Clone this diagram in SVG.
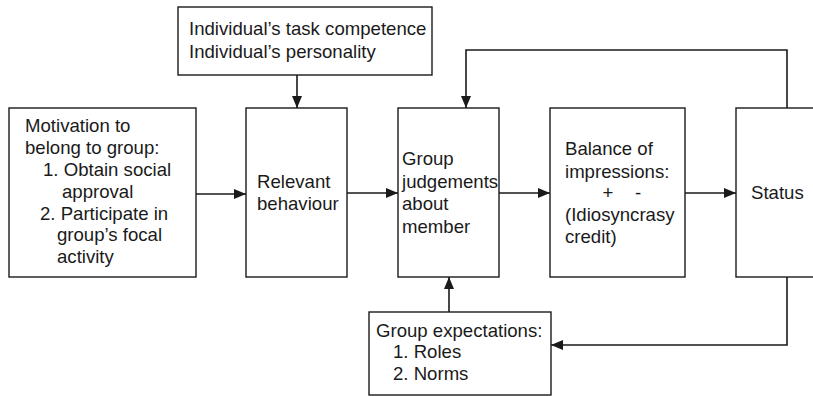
<svg xmlns="http://www.w3.org/2000/svg" width="813" height="396" viewBox="0 0 813 396">
<style>
  .box { fill: #fff; stroke: #1a1a1a; stroke-width: 1.4; }
  .t { font-family: "Liberation Sans", Arial, sans-serif; font-size: 18.6px; fill: #1a1a1a; }
  .c { fill: none; stroke: #1a1a1a; stroke-width: 1.6; }
</style>
<defs>
  <marker id="ah" markerWidth="12" markerHeight="10" refX="12" refY="5" orient="auto" markerUnits="userSpaceOnUse">
    <path d="M0,0 L12,5 L0,10 z" fill="#1a1a1a"/>
  </marker>
</defs>
<rect width="813" height="396" fill="#fff"/>
<g id="connectors">
  <line class="c" x1="196" y1="194" x2="246" y2="194" marker-end="url(#ah)"/>
  <line class="c" x1="347" y1="193" x2="398" y2="193" marker-end="url(#ah)"/>
  <line class="c" x1="499" y1="193" x2="550" y2="193" marker-end="url(#ah)"/>
  <line class="c" x1="685" y1="193" x2="736" y2="193" marker-end="url(#ah)"/>
  <line class="c" x1="297" y1="75" x2="297" y2="108" marker-end="url(#ah)"/>
  <polyline class="c" points="787,108 787,50 466,50 466,108" marker-end="url(#ah)"/>
  <polyline class="c" points="787,277 787,345 551,345" marker-end="url(#ah)"/>
  <line class="c" x1="449" y1="312" x2="449" y2="277" marker-end="url(#ah)"/>
</g>
<g id="motivation">
  <rect class="box" x="9" y="108" width="187" height="169"/>
  <text class="t" x="25" y="132">Motivation to</text>
  <text class="t" x="25" y="154">belong to group:</text>
  <text class="t" x="43" y="176">1. Obtain social</text>
  <text class="t" x="62" y="198">approval</text>
  <text class="t" x="40" y="220">2. Participate in</text>
  <text class="t" x="57" y="241">group’s focal</text>
  <text class="t" x="57" y="263">activity</text>
</g>
<g id="individual">
  <rect class="box" x="178" y="7" width="254" height="68"/>
  <text class="t" x="189" y="35">Individual’s task competence</text>
  <text class="t" x="189" y="58">Individual’s personality</text>
</g>
<g id="behaviour">
  <rect class="box" x="246" y="108" width="101" height="169"/>
  <text class="t" x="257" y="188">Relevant</text>
  <text class="t" x="257" y="210">behaviour</text>
</g>
<g id="judgements">
  <rect class="box" x="398" y="108" width="101" height="169"/>
  <text class="t" x="402" y="165">Group</text>
  <text class="t" x="402" y="188">judgements</text>
  <text class="t" x="402" y="210">about</text>
  <text class="t" x="402" y="233">member</text>
</g>
<g id="balance">
  <rect class="box" x="550" y="108" width="135" height="169"/>
  <text class="t" x="565" y="155">Balance of</text>
  <text class="t" x="565" y="178">impressions:</text>
  <text class="t" x="608" y="199" text-anchor="middle">+</text>
  <text class="t" x="638" y="199" text-anchor="middle">-</text>
  <text class="t" x="565" y="221">(Idiosyncrasy</text>
  <text class="t" x="565" y="243">credit)</text>
</g>
<g id="status">
  <rect class="box" x="736" y="108" width="90" height="169"/>
  <text class="t" x="751" y="199">Status</text>
</g>
<g id="expectations">
  <rect class="box" x="369" y="312" width="182" height="83"/>
  <text class="t" x="376" y="337">Group expectations:</text>
  <text class="t" x="393" y="358">1. Roles</text>
  <text class="t" x="393" y="380">2. Norms</text>
</g>
</svg>
